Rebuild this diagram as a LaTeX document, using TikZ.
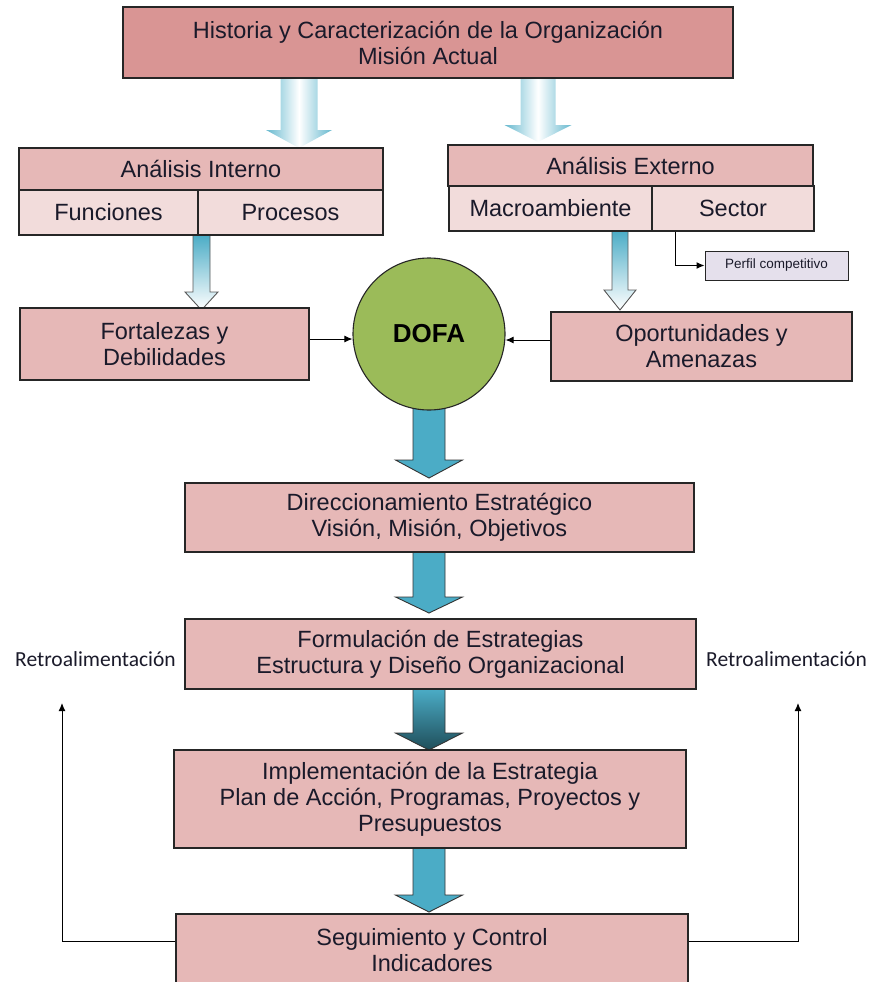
\documentclass[tikz,border=0pt]{standalone}
\usepackage{fontspec}
\setmainfont{Liberation Sans}
\newfontfamily\retrofont{Carlito}
\usetikzlibrary{arrows.meta,calc}
\definecolor{boxdark}{HTML}{D99594}
\definecolor{boxpink}{HTML}{E6B8B7}
\definecolor{boxlight}{HTML}{F2DCDB}
\definecolor{perfilc}{HTML}{E5E0EC}
\definecolor{dofag}{HTML}{9BBB59}
\definecolor{arrteal}{HTML}{4BACC6}
\definecolor{arrdark}{HTML}{1F4E5A}
\definecolor{textc}{HTML}{1A1A2A}
% #1 style, #2 x centre, #3 y start, #4 y head top, #5 y tip, #6 shaft half width, #7 head half width
\newcommand\blockarr[7]{%
  \path[#1] (#2-#6,#3) -- (#2+#6,#3) -- (#2+#6,#4) -- (#2+#7,#4) -- (#2,#5)
    -- (#2-#7,#4) -- (#2-#6,#4) -- cycle;}
\begin{document}
\begin{tikzpicture}[x=1pt,y=-1pt,
  box/.style={draw=black!85, line width=1.1pt, fill=boxpink, inner sep=0pt,
    align=center, text=textc, font=\fontsize{23.5}{26}\selectfont},
  subbox/.style={box, fill=boxlight},
  conn/.style={draw=black, line width=1pt, -{Latex[length=8pt,width=7pt]}},
  toparr/.style={left color=arrteal!85, right color=arrteal!85, middle color=white},
  smallarr/.style={top color=arrteal, bottom color=white, draw=black!65, line width=0.9pt},
  solidarr/.style={fill=arrteal, draw=black!80, line width=0.9pt},
  darkarr/.style={top color=arrteal, bottom color=arrdark, draw=black!80, line width=0.9pt},
  retro/.style={inner sep=0pt, text=textc, font=\retrofont\fontsize{21.5}{24}\selectfont}
]
\useasboundingbox (0,0) rectangle (872,982);

% block arrows (drawn first, behind the boxes)
\blockarr{toparr}{299}{78}{130}{148}{18.5}{33}
\blockarr{toparr}{538}{78}{125}{142}{17.5}{33.5}
\blockarr{smallarr}{201.5}{235}{292}{310}{8.5}{16.5}
\blockarr{smallarr}{620}{231}{290}{310}{8}{16}
\blockarr{solidarr}{429}{395}{460}{478}{16}{33.5}
\blockarr{solidarr}{429}{552}{597}{613}{16}{33.5}
\blockarr{darkarr}{429}{689}{733}{750}{16}{33.5}
\blockarr{solidarr}{429}{848}{895}{912}{16}{33.5}

% boxes
\node[box, fill=boxdark, minimum width=610, minimum height=71] (top) at (428,42.5)
  {Historia y Caracterización de la Organización\\Misión Actual};
\node[box, minimum width=364, minimum height=42] (ai) at (201,169) {Análisis Interno};
\node[subbox, minimum width=179, minimum height=45] (fun) at (108.5,212.5) {Funciones};
\node[subbox, minimum width=185, minimum height=45] (proc) at (290.5,212.5) {Procesos};
\node[box, minimum width=365, minimum height=41] (ae) at (630.5,165.5) {Análisis Externo};
\node[subbox, minimum width=203, minimum height=45] (macro) at (550.5,208.5) {Macroambiente};
\node[subbox, minimum width=162, minimum height=45] (sector) at (733,208.5) {Sector};
\node[box, fill=perfilc, line width=1pt, minimum width=143, minimum height=29,
  font=\fontsize{13.5}{15}\selectfont] (perfil) at (776.5,265.5) {Perfil competitivo};
\node[box, minimum width=289, minimum height=72] (fort) at (164.5,344) {Fortalezas y\\Debilidades};
\node[circle, draw=black!85, line width=1.1pt, fill=dofag, minimum size=152, inner sep=0pt,
  text=black, font=\bfseries\fontsize{26}{28}\selectfont] (dofa) at (429,334) {DOFA};
\node[box, minimum width=301, minimum height=69] (opp) at (701.5,346.5) {Oportunidades y\\Amenazas};
\node[box, minimum width=509, minimum height=69] (dir) at (439.5,517.5)
  {Direccionamiento Estratégico\\Visión, Misión, Objetivos};
\node[box, minimum width=511, minimum height=70] (form) at (440.5,654)
  {Formulación de Estrategias\\Estructura y Diseño Organizacional};
\node[box, minimum width=512, minimum height=98] (impl) at (430,799)
  {Implementación de la Estrategia\\Plan de Acción, Programas, Proyectos y\\Presupuestos};
\node[box, minimum width=512, minimum height=72] (seg) at (432,950)
  {Seguimiento y Control\\Indicadores};

% labels
\node[retro] (retroL) at (95.5,659) {Retroalimentación};
\node[retro] (retroR) at (786.5,659) {Retroalimentación};

% connectors
\draw[conn] (fort.east |- 0,339) -- (dofa.west |- 0,339);
\draw[conn] (opp.west |- 0,340) -- (dofa.east |- 0,340);
\draw[conn] ([xshift=24pt]sector.south west) |- (perfil.west);
\coordinate (fbL) at (62,703);
\coordinate (fbR) at (798,703);
\draw[conn] ([yshift=9pt]seg.west) -| (fbL);
\draw[conn] ([yshift=9pt]seg.east) -| (fbR);
\end{tikzpicture}
\end{document}
